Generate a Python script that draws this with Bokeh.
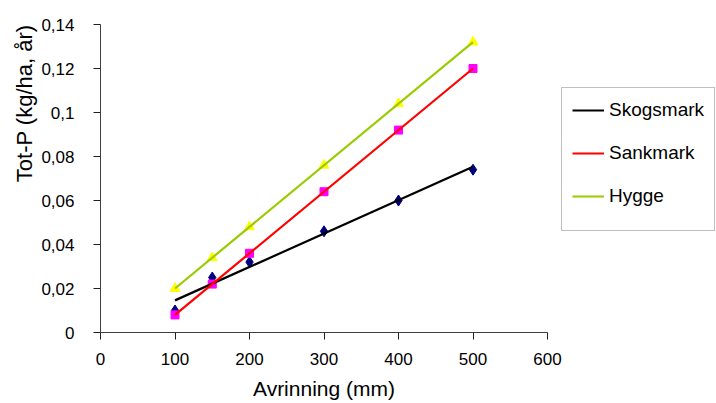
import numpy as np
from bokeh.plotting import figure
from bokeh.models import Range1d, FixedTicker, Legend, LegendItem, Title, CustomJSTickFormatter
from bokeh.embed import file_html
from bokeh.resources import INLINE

# ---- data ----
x_vals = [100, 150, 200, 300, 400, 500]
skogsmark = [0.010, 0.025, 0.032, 0.046, 0.060, 0.074]
sankmark = [0.008, 0.022, 0.036, 0.064, 0.092, 0.120]
hygge = [0.020, 0.034, 0.048, 0.076, 0.104, 0.132]

series_names = ["Skogsmark", "Sankmark", "Hygge"]

x_ticks = [0, 100, 200, 300, 400, 500, 600]
x_tick_labels = ["0", "100", "200", "300", "400", "500", "600"]
y_ticks = [0, 0.02, 0.04, 0.06, 0.08, 0.10, 0.12, 0.14]
y_tick_labels = ["0", "0,02", "0,04", "0,06", "0,08", "0,1", "0,12", "0,14"]

x_title = "Avrinning (mm)"
y_title = "Tot-P (kg/ha, år)"

FONT = "Liberation Sans"

p = figure(frame_width=447, frame_height=308,
           min_border_left=100, min_border_right=166,
           min_border_top=24, min_border_bottom=70,
           x_range=Range1d(0, 600), y_range=Range1d(0, 0.14),
           output_backend="svg", toolbar_location=None)
p.outline_line_color = None
p.xgrid.visible = False
p.ygrid.visible = False
p.background_fill_color = "white"
p.border_fill_color = "white"

for ax in (p.xaxis[0], p.yaxis[0]):
    ax.axis_line_color = "#404040"
    ax.axis_line_width = 1
    ax.major_tick_line_color = "#202020"
    ax.major_tick_out = 7
    ax.major_tick_in = 0
    ax.minor_tick_out = 0
    ax.minor_tick_in = 0
    ax.major_label_text_font = FONT
    ax.major_label_text_font_size = "17px"
    ax.major_label_text_color = "black"

p.xaxis[0].ticker = FixedTicker(ticks=x_ticks)
p.xaxis[0].formatter = CustomJSTickFormatter(args=dict(labels=x_tick_labels),
                                             code="return labels[index];")
p.xaxis[0].major_label_standoff = 13
p.xaxis[0].axis_label = x_title
p.xaxis[0].axis_label_text_font = FONT
p.xaxis[0].axis_label_text_font_size = "21px"
p.xaxis[0].axis_label_text_font_style = "normal"
p.xaxis[0].axis_label_text_color = "black"
p.xaxis[0].axis_label_standoff = 9

p.yaxis[0].ticker = FixedTicker(ticks=y_ticks)
p.yaxis[0].formatter = CustomJSTickFormatter(args=dict(labels=y_tick_labels),
                                             code="return labels[index];")
p.yaxis[0].major_label_standoff = 19

# markers (drawn below trend lines)
p.scatter(x_vals, skogsmark, marker="diamond", size=11, fill_color="#000080",
          line_color="#000080")
p.scatter(x_vals, sankmark, marker="square", size=8, fill_color="#FF00FF",
          line_color="#FF00FF")
p.scatter(x_vals, hygge, marker="triangle", size=10, fill_color="#FFFF00",
          line_color="#FFFF00")

# linear trend lines
x_arr = np.array(x_vals, dtype=float)
x_line = np.array([x_arr.min(), x_arr.max()])
line_colors = ["black", "#FF0000", "#99CC00"]
renderers = []
for ys, col in zip([skogsmark, sankmark, hygge], line_colors):
    k, m = np.polyfit(x_arr, np.array(ys), 1)
    r = p.line(x_line, k * x_line + m, line_color=col, line_width=2.2)
    renderers.append(r)

legend = Legend(items=[LegendItem(label=n, renderers=[r]) for n, r in zip(series_names, renderers)],
                location=(14, 101), margin=0, padding=10, spacing=19,
                glyph_width=32, glyph_height=24, label_height=24,
                label_standoff=5,
                title=" ", title_location="below", title_standoff=2,
                title_text_font_size="9px",
                label_text_font=FONT, label_text_font_size="19px",
                label_text_color="black",
                border_line_color="#808080", border_line_width=1,
                background_fill_color="white", background_fill_alpha=1)
p.add_layout(legend, "right")

ytitle = Title(text=y_title, align="right", standoff=4,
               text_font=FONT, text_font_size="22px", text_font_style="normal",
               text_color="black")
p.add_layout(ytitle, "left")

open("out.html", "w").write(file_html(p, INLINE))
